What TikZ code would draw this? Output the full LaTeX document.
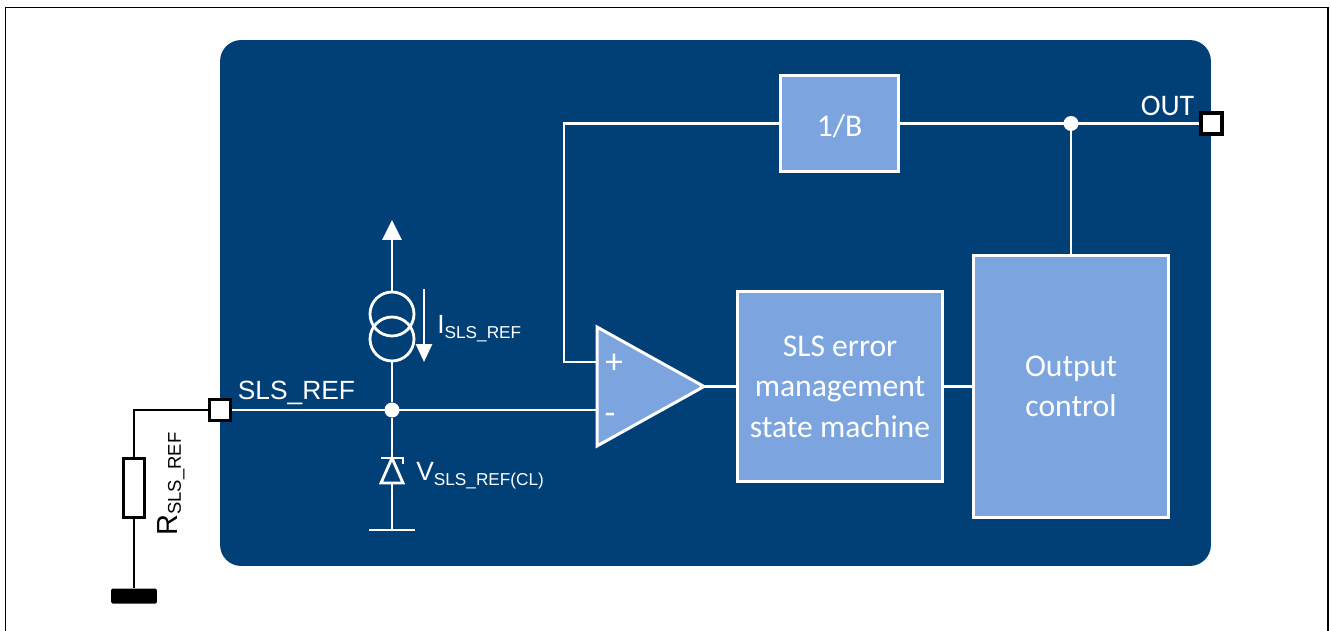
\documentclass[tikz,border=0pt]{standalone}
\usepackage{fontspec}
\setmainfont{Carlito}
\newfontfamily\labelfont{Liberation Sans}
\usepackage{xcolor}
\usetikzlibrary{calc, positioning, arrows.meta, shapes.geometric}
\definecolor{chipblue}{HTML}{004077}
\definecolor{blockblue}{HTML}{7CA5E0}
\tikzset{
    wire/.style={white, line width=1.6pt},
    extwire/.style={black, line width=1.6pt},
    blockbox/.style={draw=white, fill=blockblue, line width=1.7pt, text=white, align=center, font=\fontsize{18}{23}\selectfont, inner sep=0pt, execute at begin node={\rule{0pt}{15pt}}},
    pinbox/.style={draw=black, fill=white, line width=2pt, minimum size=.42cm, inner sep=0pt},
    junction/.style={circle, fill=white, minimum size=.3cm, inner sep=0pt},
    sourcering/.style={circle, draw=white, line width=1.6pt, minimum size=.88cm, inner sep=0pt},
    wiretext/.style={text=white, font=\labelfont\fontsize{15}{16}\selectfont, inner sep=0pt},
    every picture/.style={x=.02cm, y=-.02cm}
}
\newcommand{\subtext}[1]{\raisebox{-.35ex}{\fontsize{9.8}{12}\selectfont #1}}
\begin{document}
\begin{tikzpicture}
    \useasboundingbox (0,0) rectangle (1331,631);
    \draw[black, line width=.8pt] (5.5,631) -- (5.5,7.5) -- (1328,7.5) -- (1328,631);
    \node(chip) [fill=chipblue, rounded corners=.42cm, minimum width=19.82cm, minimum height=10.52cm, inner sep=0pt] at (715.5,303) {};
    % blocks
    \node(ratio) [blockbox, minimum width=2.37cm, minimum height=1.91cm] at (839.5,123.5) {1/B};
    \node(state) [blockbox, minimum width=4.09cm, minimum height=3.81cm] at (840,386.5) {SLS error\\management\\state machine};
    \node(output) [blockbox, minimum width=3.89cm, minimum height=5.23cm] at (1071,386.5) {Output\\control};
    \coordinate (plus) at (597,362);
    \coordinate (minus) at (597,410);
    \coordinate (tip) at (704,386.5);
    \draw[blockbox] (597,327) -- (tip) -- (597,446) -- cycle;
    \node(plussign) [text=white, inner sep=0pt, font=\fontsize{20}{20}\selectfont] at (614,364) {+};
    \node(minussign) [text=white, inner sep=0pt, font=\fontsize{20}{20}\selectfont] at (610,419) {-};
    % pins and junctions
    \node(outpin) [pinbox] at (1211.5,123.5) {};
    \node(refpin) [pinbox] at (220,410) {};
    \node(outdot) [junction] at (1071,123.5) {};
    \node(refdot) [junction] at (392,410) {};
    % current source
    \node(upper) [sourcering] at (392,314) {};
    \node(lower) [sourcering] at (392,339) {};
    \coordinate (arrowtop) at (392,220);
    \coordinate (groundbar) at (392,530);
    % zener clamp
    \coordinate (zenertop) at (392,458);
    \coordinate (zenerbase) at (392,483);
    % internal wiring
    \draw[wire] (ratio) -| (564,362) -- (plus);
    \draw[wire] (ratio) -- (outpin);
    \draw[wire] (outdot) -- (output);
    \draw[wire] (refpin) -- (minus);
    \draw[wire] (tip) -- (state);
    \draw[wire] (state) -- (output);
    \draw[wire, -{Triangle[width=.38cm, length=.4cm]}] (upper.north) -- (arrowtop);
    \draw[wire] (lower.south) -- (refdot);
    \draw[wire, -{Triangle[width=.32cm, length=.36cm]}] (424,289) -- (424,362);
    \draw[wire] (refdot) -- (zenertop);
    \draw[wire] (zenerbase) -- (groundbar);
    \draw[wire] (369,530) -- (415,530);
    \draw[wire] (381,483) -- (403,483) -- (zenertop) -- cycle;
    \draw[wire] (381,458) -- (403,458) -- (403,464);
    % labels
    \node(outlabel) [text=white, inner sep=0pt, font=\fontsize{17}{17}\selectfont] at (1167.5,106) {OUT};
    \node(reflabel) [wiretext] at (296.5,393) {SLS\_REF};
    \node(currentlabel) [wiretext, anchor=west] at (437,329) {I\subtext{SLS\_REF}};
    \node(clamplabel) [wiretext, anchor=west] at (416,476) {V\subtext{SLS\_REF(CL)}};
    % external resistor
    \node(resistor) [draw=black, fill=white, line width=1.6pt, minimum width=.42cm, minimum height=1.18cm, inner sep=0pt] at (134,488) {};
    \node(groundblock) [fill=black, rounded corners=.03cm, minimum width=.92cm, minimum height=.3cm, inner sep=0pt] at (134,596) {};
    \draw[extwire] (refpin) -| (resistor);
    \draw[extwire] (resistor) -- (groundblock);
    \node(reslabel) [text=black, inner sep=0pt, rotate=90, anchor=west, font=\labelfont\fontsize{16.5}{18}\selectfont] at (171,536) {R{\fontsize{10.5}{12}\selectfont\raisebox{-.35ex}{SLS\_REF}}};
\end{tikzpicture}
\end{document}
